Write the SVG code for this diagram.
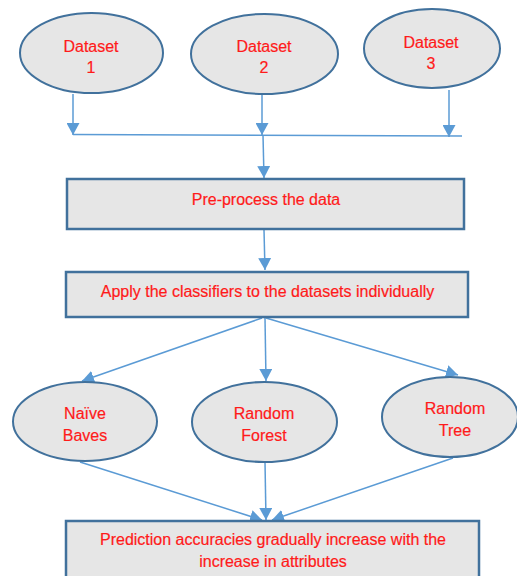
<svg xmlns="http://www.w3.org/2000/svg" width="517" height="576" viewBox="0 0 517 576">
<defs>
<marker id="ah" markerUnits="userSpaceOnUse" markerWidth="13" markerHeight="13" viewBox="0 0 13 13" refX="12" refY="6.5" orient="auto">
<path d="M0,0 L12,6.5 L0,13 Z" fill="#5b9bd5"/>
</marker>
<style>
.ell{fill:#e6e6e6;stroke:#41719c;stroke-width:2}
.box{fill:#e6e6e6;stroke:#41719c;stroke-width:2.5}
.t{font-family:"Liberation Sans",Arial,sans-serif;font-size:16px;fill:#ff1a1a;stroke:#ff1a1a;stroke-width:0.2;text-anchor:middle}
.c{stroke:#5b9bd5;stroke-width:1.5;fill:none}
.a{marker-end:url(#ah)}
</style>
</defs>
<rect width="517" height="576" fill="#ffffff"/>
<g id="connectors">
<line class="c a" x1="73" y1="94" x2="73" y2="135"/>
<line class="c a" x1="262" y1="95" x2="262" y2="135"/>
<line class="c a" x1="449" y1="90" x2="449" y2="137"/>
<line class="c" x1="73" y1="134.5" x2="462" y2="136"/>
<line class="c a" x1="263" y1="135" x2="264" y2="178"/>
<line class="c a" x1="264" y1="230" x2="265" y2="270"/>
<line class="c a" x1="262" y1="318" x2="82" y2="381"/>
<line class="c a" x1="265" y1="318" x2="266" y2="381"/>
<line class="c a" x1="266" y1="318" x2="458" y2="375"/>
<line class="c a" x1="80" y1="462" x2="262" y2="520"/>
<line class="c a" x1="265" y1="462" x2="266" y2="520"/>
<line class="c a" x1="453" y1="458" x2="272" y2="520"/>
</g>
<g id="dataset1">
<ellipse class="ell" cx="91.5" cy="53" rx="71.5" ry="40"/>
<text class="t" x="91" y="52">Dataset</text>
<text class="t" x="91" y="73">1</text>
</g>
<g id="dataset2">
<ellipse class="ell" cx="264.5" cy="54" rx="73.5" ry="40"/>
<text class="t" x="264" y="52">Dataset</text>
<text class="t" x="264" y="73">2</text>
</g>
<g id="dataset3">
<ellipse class="ell" cx="432" cy="48.5" rx="68" ry="39.5"/>
<text class="t" x="431" y="47.5">Dataset</text>
<text class="t" x="431" y="68.5">3</text>
</g>
<g id="preprocess">
<rect class="box" x="67" y="179" width="397" height="50"/>
<text class="t" x="266" y="205">Pre-process the data</text>
</g>
<g id="apply">
<rect class="box" x="66" y="272" width="402" height="45"/>
<text class="t" x="267.5" y="297">Apply the classifiers to the datasets individually</text>
</g>
<g id="naivebayes">
<ellipse class="ell" cx="85" cy="421.5" rx="72" ry="39.5"/>
<text class="t" x="85" y="419">Naïve</text>
<text class="t" x="85" y="441">Baves</text>
</g>
<g id="randomforest">
<ellipse class="ell" cx="264.5" cy="422" rx="72.5" ry="40"/>
<text class="t" x="264" y="419">Random</text>
<text class="t" x="264" y="441">Forest</text>
</g>
<g id="randomtree">
<ellipse class="ell" cx="450" cy="417" rx="68" ry="40"/>
<text class="t" x="455" y="414">Random</text>
<text class="t" x="455" y="436">Tree</text>
</g>
<g id="prediction">
<rect class="box" x="66" y="521" width="413" height="70"/>
<text class="t" x="273" y="545">Prediction accuracies gradually increase with the</text>
<text class="t" x="273" y="567">increase in attributes</text>
</g>
</svg>
